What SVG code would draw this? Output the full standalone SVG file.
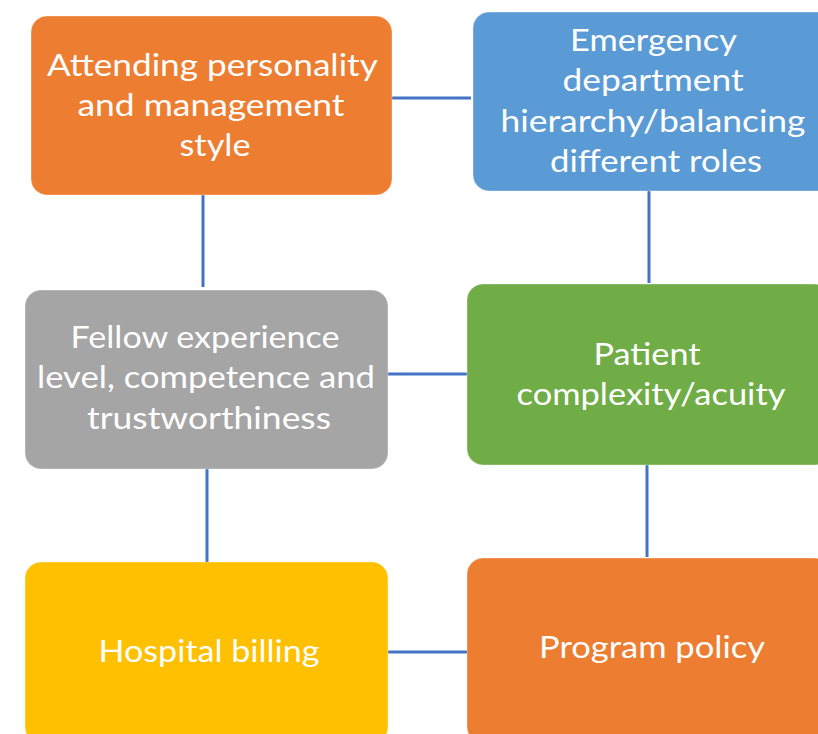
<svg xmlns="http://www.w3.org/2000/svg" width="818" height="734" viewBox="0 0 818 734">
  <style>
    .box { stroke: #ffffff; stroke-opacity: 0.35; stroke-width: 1; }
    .orange { fill: #ED7D31; }
    .blue { fill: #5B9BD5; }
    .grey { fill: #A5A5A5; }
    .green { fill: #70AD47; }
    .yellow { fill: #FFC000; }
    .label { fill: #ffffff; font-family: Lato, "Open Sans", "Liberation Sans", sans-serif; font-size: 31px; text-anchor: middle; }
    .link { stroke: #4472C4; stroke-width: 3; fill: none; }
  </style>

  <!-- connectors -->
  <g id="connectors">
    <line class="link" x1="392" y1="98" x2="471" y2="98"/>
    <line class="link" x1="203" y1="195" x2="203" y2="287"/>
    <line class="link" x1="649" y1="191" x2="649" y2="283"/>
    <line class="link" x1="388" y1="374" x2="467" y2="374"/>
    <line class="link" x1="207" y1="469" x2="207" y2="563"/>
    <line class="link" x1="647" y1="465" x2="647" y2="557"/>
    <line class="link" x1="388" y1="652" x2="467" y2="652"/>
  </g>

  <g id="attending">
    <rect class="box orange" x="31" y="16" width="361" height="179" rx="16"/>
    <text class="label">
      <tspan x="216" y="76" textLength="330" lengthAdjust="spacingAndGlyphs">Attending personality</tspan>
      <tspan x="215" y="116" textLength="267" lengthAdjust="spacingAndGlyphs">and management</tspan>
      <tspan x="215" y="156" textLength="71" lengthAdjust="spacingAndGlyphs">style</tspan>
    </text>
  </g>

  <g id="ed-hierarchy">
    <rect class="box blue" x="473" y="12" width="364" height="179" rx="16"/>
    <text class="label">
      <tspan x="657" y="51" textLength="166" lengthAdjust="spacingAndGlyphs">Emergency</tspan>
      <tspan x="657" y="91" textLength="181" lengthAdjust="spacingAndGlyphs">department</tspan>
      <tspan x="657" y="132" textLength="305" lengthAdjust="spacingAndGlyphs">hierarchy/balancing</tspan>
      <tspan x="656" y="172" textLength="212" lengthAdjust="spacingAndGlyphs">different roles</tspan>
    </text>
  </g>

  <g id="fellow">
    <rect class="box grey" x="25" y="290" width="363" height="179" rx="16"/>
    <text class="label">
      <tspan x="209" y="348" textLength="269" lengthAdjust="spacingAndGlyphs">Fellow experience</tspan>
      <tspan x="210" y="388" textLength="338" lengthAdjust="spacingAndGlyphs">level, competence and</tspan>
      <tspan x="209" y="429" textLength="244" lengthAdjust="spacingAndGlyphs">trustworthiness</tspan>
    </text>
  </g>

  <g id="patient">
    <rect class="box green" x="467" y="284" width="364" height="181" rx="16"/>
    <text class="label">
      <tspan x="651" y="365" textLength="107" lengthAdjust="spacingAndGlyphs">Patient</tspan>
      <tspan x="651" y="405" textLength="269" lengthAdjust="spacingAndGlyphs">complexity/acuity</tspan>
    </text>
  </g>

  <g id="billing">
    <rect class="box yellow" x="25" y="562" width="363" height="181" rx="16"/>
    <text class="label">
      <tspan x="209" y="662" textLength="221" lengthAdjust="spacingAndGlyphs">Hospital billing</tspan>
    </text>
  </g>

  <g id="policy">
    <rect class="box orange" x="467" y="558" width="364" height="185" rx="16"/>
    <text class="label">
      <tspan x="652" y="658" textLength="226" lengthAdjust="spacingAndGlyphs">Program policy</tspan>
    </text>
  </g>
</svg>
